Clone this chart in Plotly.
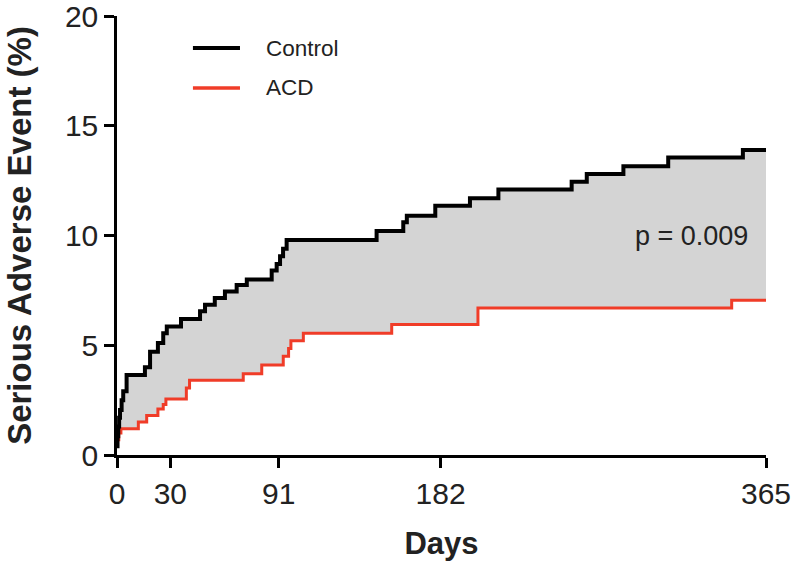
import plotly.graph_objects as go

# Control (black) Kaplan-Meier style cumulative event steps
control_days = [0, 0.3, 0.7, 1.2, 1.7, 2.6, 3.5, 5.4, 15.7, 18.6, 23, 26, 28, 36, 46.7, 49.5,
                55, 60.7, 67.3, 73, 87, 89.8, 91.7, 93.4, 95.4, 146, 161, 163, 179, 198.5,
                214.5, 255.7, 264.2, 284.8, 310, 352, 365]
control_vals = [0.4, 0.85, 1.3, 1.7, 2.05, 2.5, 2.9, 3.65, 4.0, 4.7, 5.1, 5.55, 5.85, 6.2, 6.55, 6.85,
                7.15, 7.45, 7.75, 8.0, 8.4, 8.7, 9.05, 9.4, 9.8, 10.2, 10.6, 10.9, 11.35, 11.7,
                12.1, 12.45, 12.8, 13.15, 13.55, 13.9, 13.9]

# ACD (red)
acd_days = [0, 1, 2.2, 12, 16.7, 23, 26, 27.5, 39, 40.8, 71, 81.4, 93.5, 96.5, 97.8, 104.8,
            154.5, 203, 345.7, 365]
acd_vals = [0.7, 1.0, 1.2, 1.5, 1.8, 2.1, 2.3, 2.55, 3.05, 3.4, 3.7, 4.1, 4.5, 4.85, 5.2, 5.55,
            5.95, 6.7, 7.05, 7.05]

x_ticks = [0, 30, 91, 182, 365]
y_ticks = [0, 5, 10, 15, 20]
series_names = ["Control", "ACD"]
series_colors = ["#000000", "#F03C28"]
p_text = "p = 0.009"

FONT = "Liberation Sans, Arial, sans-serif"

fig = go.Figure()
fig.add_trace(go.Scatter(x=acd_days, y=acd_vals, mode="lines", line_shape="hv",
                         line=dict(color=series_colors[1], width=3), name=series_names[1],
                         showlegend=False, hoverinfo="skip", cliponaxis=False))
fig.add_trace(go.Scatter(x=control_days, y=control_vals, mode="lines", line_shape="hv",
                         line=dict(color=series_colors[0], width=4), name=series_names[0],
                         fill="tonexty", fillcolor="rgb(212,212,212)",
                         showlegend=False, hoverinfo="skip", cliponaxis=False))

# Manual legend
legend_y = [0.927, 0.836]
for name, color, ly in zip(series_names, series_colors, legend_y):
    fig.add_shape(type="line", xref="paper", yref="paper", x0=0.117, x1=0.1895, y0=ly, y1=ly,
                  line=dict(color=color, width=4 if color == "#000000" else 3.5))
    fig.add_annotation(xref="paper", yref="paper", x=0.226, y=ly, text=name, showarrow=False,
                       xanchor="left", yanchor="middle",
                       font=dict(family=FONT, size=22.5, color="#222222"))

fig.add_annotation(x=323, y=10, text=p_text, showarrow=False, xanchor="center", yanchor="middle",
                   font=dict(family=FONT, size=27, color="#222222"))

fig.update_layout(
    width=800, height=567,
    margin=dict(l=117, r=34, t=16, b=112),
    paper_bgcolor="white", plot_bgcolor="white",
    font=dict(family=FONT, color="#222222"),
)
fig.update_xaxes(range=[0, 365], tickvals=x_ticks, ticktext=[str(t) for t in x_ticks],
                 automargin=False, ticklabeloverflow="allow",
                 showgrid=False, zeroline=False, showline=True, linecolor="black", linewidth=2.5,
                 ticks="outside", ticklen=10, tickwidth=2.5, tickcolor="black",
                 tickfont=dict(family=FONT, size=30, color="#222222"),
                 title=dict(text="<b>Days</b>", font=dict(family=FONT, size=31, color="#222222"),
                            standoff=24))
fig.update_yaxes(range=[0, 20], tickvals=y_ticks, automargin=False, ticklabeloverflow="allow",
                 showgrid=False, zeroline=False, showline=True, linecolor="black", linewidth=2.5,
                 ticks="outside", ticklen=10, tickwidth=2.5, tickcolor="black",
                 tickfont=dict(family=FONT, size=30, color="#222222"),
                 title=dict(text="<b>Serious Adverse Event (%)</b>",
                            font=dict(family=FONT, size=33, color="#222222"), standoff=24))

fig.write_html("out.html", config={"displayModeBar": False},
               post_script="document.body.style.margin='0';document.body.style.overflow='hidden';")
